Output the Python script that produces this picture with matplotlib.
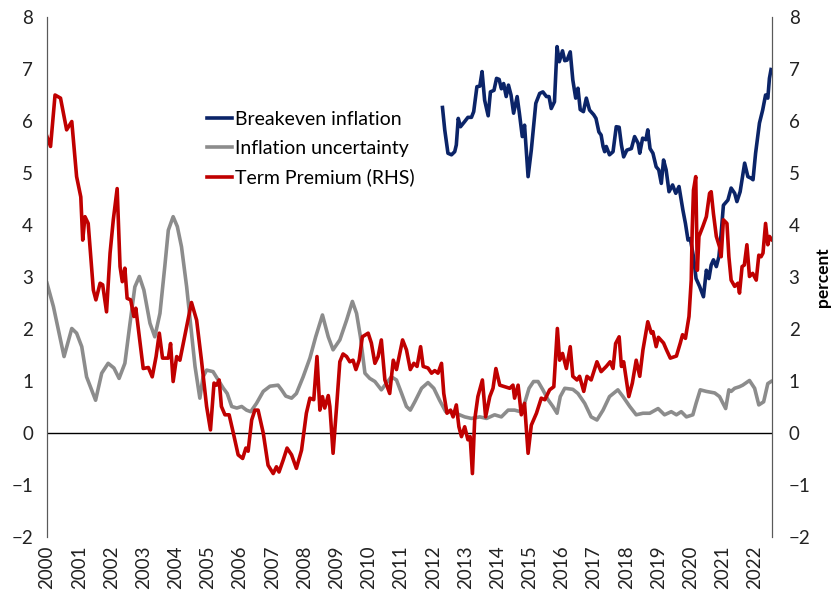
import matplotlib
matplotlib.use("Agg")
import matplotlib.pyplot as plt

plt.rcParams['font.family'] = ['Lato', 'DejaVu Sans']

# decimal years / values
be_x = [2012.29, 2012.36, 2012.46, 2012.57, 2012.67, 2012.72, 2012.78, 2012.85, 2012.98, 2013.08,
        2013.19, 2013.26, 2013.36, 2013.45, 2013.52, 2013.60, 2013.71, 2013.78, 2013.89, 2013.97,
        2014.05, 2014.12, 2014.19, 2014.27, 2014.34, 2014.42, 2014.50, 2014.61, 2014.68, 2014.77,
        2014.84, 2014.95, 2015.05, 2015.19, 2015.31, 2015.41, 2015.52, 2015.60, 2015.67, 2015.77,
        2015.85, 2015.92, 2016.02, 2016.09, 2016.16, 2016.26, 2016.34, 2016.43, 2016.50, 2016.57,
        2016.67, 2016.76, 2016.86, 2016.99, 2017.06, 2017.15, 2017.22, 2017.28, 2017.33, 2017.38,
        2017.48, 2017.59, 2017.69, 2017.78, 2017.85, 2017.92, 2018.02, 2018.16, 2018.26, 2018.37,
        2018.42, 2018.51, 2018.61, 2018.67, 2018.74, 2018.83, 2018.93, 2019.01, 2019.09, 2019.16,
        2019.24, 2019.33, 2019.44, 2019.54, 2019.64, 2019.76, 2019.84, 2019.92, 2019.99, 2020.09,
        2020.17, 2020.28, 2020.40, 2020.49, 2020.57, 2020.64, 2020.71, 2020.80, 2020.88, 2020.95,
        2021.02, 2021.16, 2021.26, 2021.37, 2021.44, 2021.54, 2021.68, 2021.78, 2021.88, 2021.94,
        2022.02, 2022.14, 2022.24, 2022.33, 2022.40, 2022.45, 2022.50]
be_y = [6.26, 5.83, 5.38, 5.35, 5.41, 5.54, 6.05, 5.89, 5.99, 6.07,
        6.07, 6.18, 6.66, 6.67, 6.95, 6.40, 6.10, 6.56, 6.59, 6.82,
        6.80, 6.62, 6.72, 6.47, 6.69, 6.50, 6.15, 6.47, 6.15, 5.70,
        5.92, 4.93, 5.44, 6.34, 6.53, 6.56, 6.47, 6.47, 6.24, 6.37,
        7.43, 7.14, 7.35, 7.16, 7.17, 7.33, 6.79, 6.44, 6.63, 6.22,
        6.18, 6.44, 6.21, 6.12, 6.05, 5.79, 5.73, 5.51, 5.41, 5.51,
        5.35, 5.41, 5.89, 5.88, 5.54, 5.31, 5.44, 5.47, 5.70, 5.57,
        5.38, 5.67, 5.64, 5.83, 5.47, 5.38, 5.12, 5.06, 4.80, 5.25,
        5.06, 4.64, 4.77, 4.61, 4.74, 4.29, 4.03, 3.71, 3.74, 3.39,
        2.97, 2.82, 2.62, 3.13, 2.97, 3.23, 3.33, 3.20, 3.39, 3.84,
        4.38, 4.48, 4.71, 4.61, 4.45, 4.64, 5.19, 4.93, 4.90, 4.87,
        5.38, 5.96, 6.21, 6.50, 6.44, 6.82, 6.99]

unc_x = [2000.00, 2000.20, 2000.53, 2000.77, 2000.92, 2001.08, 2001.23, 2001.51, 2001.70, 2001.90,
         2002.08, 2002.24, 2002.42, 2002.58, 2002.73, 2002.87, 2003.01, 2003.20, 2003.35, 2003.51,
         2003.66, 2003.77, 2003.92, 2004.05, 2004.18, 2004.34, 2004.49, 2004.60, 2004.75, 2004.85,
         2004.96, 2005.16, 2005.32, 2005.48, 2005.60, 2005.74, 2005.90, 2006.05, 2006.20, 2006.33,
         2006.51, 2006.72, 2006.93, 2007.18, 2007.29, 2007.42, 2007.60, 2007.75, 2007.96, 2008.17,
         2008.35, 2008.56, 2008.74, 2008.89, 2009.10, 2009.31, 2009.49, 2009.62, 2009.74, 2009.88,
         2010.03, 2010.19, 2010.39, 2010.55, 2010.70, 2010.86, 2011.02, 2011.17, 2011.29, 2011.43,
         2011.64, 2011.84, 2012.02, 2012.20, 2012.39, 2012.56, 2012.70, 2012.98, 2013.19, 2013.45,
         2013.66, 2013.91, 2014.12, 2014.33, 2014.53, 2014.71, 2014.84, 2014.98, 2015.12, 2015.26,
         2015.41, 2015.57, 2015.72, 2015.85, 2015.95, 2016.09, 2016.34, 2016.50, 2016.71, 2016.91,
         2017.09, 2017.28, 2017.48, 2017.74, 2017.90, 2018.11, 2018.31, 2018.52, 2018.73, 2018.99,
         2019.19, 2019.40, 2019.56, 2019.71, 2019.87, 2020.07, 2020.17, 2020.30, 2020.49, 2020.75,
         2020.90, 2021.09, 2021.19, 2021.26, 2021.37, 2021.52, 2021.62, 2021.83, 2021.99, 2022.12,
         2022.27, 2022.40, 2022.50]
unc_y = [2.88, 2.43, 1.47, 2.01, 1.92, 1.66, 1.08, 0.63, 1.15, 1.34,
         1.25, 1.05, 1.34, 2.11, 2.81, 3.01, 2.75, 2.11, 1.85, 2.30,
         3.20, 3.90, 4.16, 3.97, 3.58, 2.81, 1.92, 1.28, 0.67, 1.08,
         1.21, 1.18, 1.02, 0.86, 0.76, 0.51, 0.48, 0.51, 0.44, 0.41,
         0.57, 0.80, 0.90, 0.92, 0.83, 0.71, 0.67, 0.76, 1.08, 1.44,
         1.85, 2.27, 1.85, 1.60, 1.79, 2.17, 2.53, 2.30, 1.85, 1.15,
         1.05, 0.99, 0.83, 0.96, 1.08, 1.02, 0.76, 0.51, 0.44, 0.60,
         0.86, 0.97, 0.86, 0.63, 0.41, 0.41, 0.38, 0.31, 0.28, 0.31,
         0.28, 0.35, 0.31, 0.44, 0.44, 0.41, 0.57, 0.86, 0.99, 0.99,
         0.83, 0.64, 0.51, 0.38, 0.70, 0.86, 0.84, 0.76, 0.57, 0.31,
         0.25, 0.44, 0.70, 0.83, 0.70, 0.51, 0.35, 0.38, 0.38, 0.47,
         0.35, 0.41, 0.35, 0.41, 0.31, 0.35, 0.57, 0.83, 0.80, 0.77,
         0.70, 0.47, 0.83, 0.80, 0.86, 0.89, 0.92, 1.01, 0.86, 0.54,
         0.60, 0.95, 0.99]

tp_x = [2000.00, 2000.11, 2000.25, 2000.42, 2000.61, 2000.77, 2000.92, 2001.05, 2001.11, 2001.18,
        2001.28, 2001.44, 2001.52, 2001.65, 2001.73, 2001.85, 2001.96, 2002.06, 2002.18, 2002.27,
        2002.34, 2002.42, 2002.49, 2002.60, 2002.70, 2002.76, 2002.87, 2002.99, 2003.15, 2003.27,
        2003.39, 2003.49, 2003.59, 2003.77, 2003.84, 2003.92, 2004.03, 2004.13, 2004.49, 2004.65,
        2004.80, 2004.96, 2005.08, 2005.19, 2005.27, 2005.35, 2005.42, 2005.53, 2005.66, 2005.79,
        2005.94, 2006.08, 2006.18, 2006.25, 2006.36, 2006.46, 2006.56, 2006.72, 2006.87, 2007.03,
        2007.13, 2007.21, 2007.34, 2007.46, 2007.60, 2007.75, 2007.91, 2008.06, 2008.17, 2008.29,
        2008.39, 2008.48, 2008.56, 2008.63, 2008.74, 2008.79, 2008.89, 2009.00, 2009.10, 2009.20,
        2009.31, 2009.41, 2009.51, 2009.60, 2009.70, 2009.80, 2009.98, 2010.08, 2010.19, 2010.29,
        2010.39, 2010.50, 2010.65, 2010.76, 2010.86, 2011.05, 2011.17, 2011.29, 2011.40, 2011.50,
        2011.61, 2011.69, 2011.84, 2011.95, 2012.05, 2012.15, 2012.26, 2012.33, 2012.43, 2012.54,
        2012.62, 2012.72, 2012.80, 2012.88, 2012.98, 2013.08, 2013.15, 2013.22, 2013.29, 2013.39,
        2013.53, 2013.63, 2013.76, 2013.86, 2013.95, 2014.07, 2014.22, 2014.38, 2014.48, 2014.53,
        2014.64, 2014.74, 2014.84, 2014.95, 2015.05, 2015.21, 2015.36, 2015.47, 2015.62, 2015.75,
        2015.86, 2015.93, 2016.02, 2016.14, 2016.26, 2016.34, 2016.47, 2016.55, 2016.68, 2016.78,
        2016.91, 2017.09, 2017.22, 2017.38, 2017.50, 2017.59, 2017.67, 2017.78, 2017.85, 2017.92,
        2018.08, 2018.19, 2018.31, 2018.42, 2018.52, 2018.67, 2018.78, 2018.83, 2018.93, 2019.00,
        2019.16, 2019.25, 2019.37, 2019.56, 2019.68, 2019.75, 2019.84, 2019.95, 2020.02, 2020.05,
        2020.09, 2020.16, 2020.21, 2020.26, 2020.38, 2020.49, 2020.59, 2020.64, 2020.71, 2020.80,
        2020.90, 2020.95, 2021.02, 2021.13, 2021.19, 2021.26, 2021.37, 2021.47, 2021.52, 2021.60,
        2021.67, 2021.75, 2021.83, 2021.93, 2022.04, 2022.12, 2022.19, 2022.25, 2022.33, 2022.40,
        2022.45, 2022.52]
tp_y = [5.70, 5.51, 6.50, 6.44, 5.83, 5.99, 4.93, 4.54, 3.71, 4.16,
        4.03, 2.75, 2.56, 2.88, 2.85, 2.33, 3.46, 4.10, 4.70, 3.20,
        2.91, 3.17, 2.59, 2.56, 2.24, 2.40, 1.85, 1.24, 1.26, 1.08,
        1.47, 1.92, 1.44, 1.44, 1.72, 0.99, 1.47, 1.40, 2.51, 2.17,
        1.40, 0.51, 0.06, 0.96, 0.92, 1.02, 0.51, 0.35, 0.35, 0.00,
        -0.42, -0.49, -0.29, -0.35, 0.25, 0.44, 0.44, 0.00, -0.62, -0.78,
        -0.65, -0.75, -0.52, -0.29, -0.42, -0.68, -0.33, 0.38, 0.67, 0.64,
        1.47, 0.44, 0.70, 0.48, 0.72, 0.51, -0.39, 0.51, 1.37, 1.52,
        1.47, 1.37, 1.40, 1.22, 1.40, 1.85, 1.92, 1.73, 1.34, 1.47,
        1.79, 1.02, 0.76, 1.40, 1.22, 1.79, 1.60, 1.22, 1.34, 1.28,
        1.66, 1.28, 1.25, 1.15, 1.20, 1.15, 1.34, 0.76, 0.38, 0.44,
        0.31, 0.54, 0.12, -0.07, 0.12, -0.13, -0.07, -0.78, 0.25, 0.70,
        1.02, 0.31, 0.70, 0.86, 1.24, 0.92, 0.89, 0.86, 0.92, 0.67,
        0.92, 0.35, 0.57, -0.39, 0.15, 0.38, 0.67, 0.64, 0.83, 0.89,
        2.01, 1.40, 1.53, 1.24, 1.66, 1.09, 1.02, 1.09, 0.80, 1.09,
        1.02, 1.37, 1.18, 1.28, 1.37, 1.24, 1.72, 1.85, 1.28, 1.37,
        0.70, 0.96, 1.40, 1.09, 1.60, 2.14, 1.92, 1.95, 1.66, 1.84,
        1.73, 1.60, 1.44, 1.48, 1.73, 1.89, 1.82, 2.24, 2.94, 3.90,
        4.67, 4.93, 3.13, 3.78, 3.97, 4.16, 4.61, 4.64, 4.22, 3.78,
        3.58, 3.39, 4.10, 4.03, 3.39, 2.94, 2.82, 2.88, 2.69, 3.20,
        3.23, 3.62, 3.01, 3.07, 2.94, 3.42, 3.39, 3.46, 4.03, 3.62,
        3.78, 3.72]

years = list(range(2000, 2023))

navy = '#0b2468'
grey = '#8c8c8c'
red = '#c00000'

fig = plt.figure(figsize=(8.35, 5.99), dpi=100)
ax = fig.add_axes([47 / 835, 62 / 599, 725 / 835, 520 / 599])
ax2 = ax.twinx()

l1, = ax.plot(be_x, be_y, color=navy, lw=2.6, label='Breakeven inflation')
l2, = ax.plot(unc_x, unc_y, color=grey, lw=2.6, label='Inflation uncertainty')
l3, = ax2.plot(tp_x, tp_y, color=red, lw=2.6, label='Term Premium (RHS)')
ax.axhline(0, color='black', lw=1.0, zorder=0)

for a in (ax, ax2):
    a.set_ylim(-2, 8)
    a.set_xlim(2000, 2022.53)
    a.spines['top'].set_visible(False)
    a.spines['bottom'].set_visible(False)
    a.spines['left'].set_color('#595959')
    a.spines['right'].set_color('#595959')
    a.tick_params(length=0, labelsize=13.5, colors='#222222')
    a.set_yticks(range(-2, 9))

ax.tick_params(axis='y', pad=10)
ax2.tick_params(axis='y', pad=12)
ax.set_xticks(years)
ax.set_xticklabels([str(y) for y in years], rotation=90)
ax.tick_params(axis='x', pad=6)

ax2.set_ylabel('percent', fontsize=12.5, fontweight='bold', labelpad=3)

ax.legend(handles=[l1, l2, l3], loc='upper left', bbox_to_anchor=(0.21, 0.835),
          frameon=False, fontsize=14, handlelength=1.3, handletextpad=0.15,
          labelspacing=0.62, borderaxespad=0)

fig.savefig('out.png', dpi=100)
